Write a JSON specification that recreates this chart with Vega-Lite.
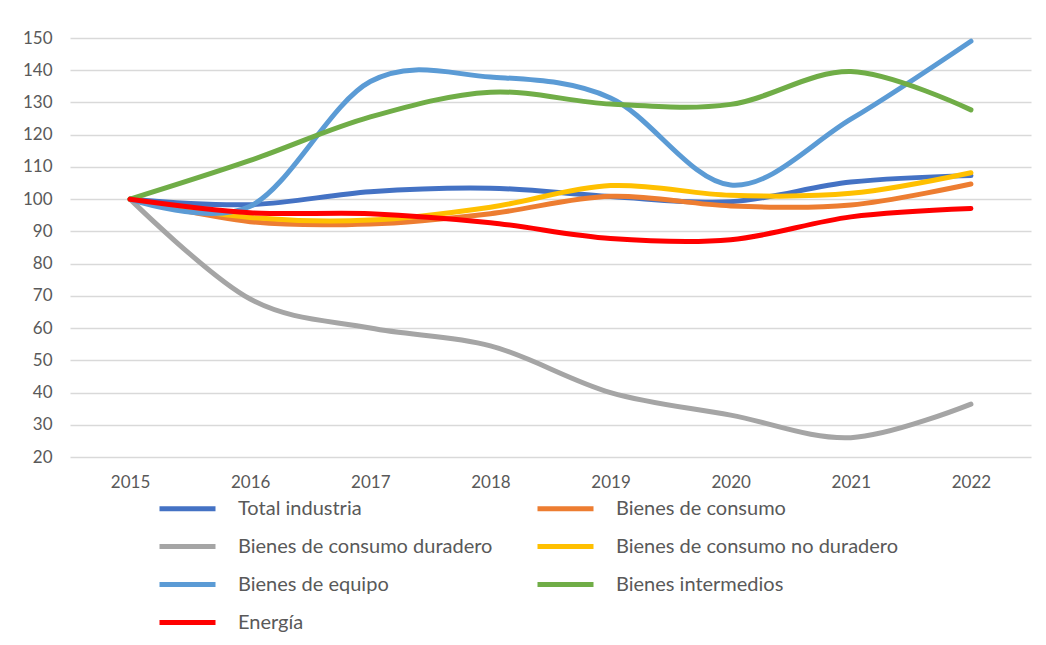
{
  "$schema": "https://vega.github.io/schema/vega-lite/v6.json",
  "autosize": {"type": "none"},
  "width": 961,
  "height": 419,
  "padding": {"left": 70, "top": 38, "right": 15, "bottom": 188},
  "background": "white",
  "config": {
    "font": "Lato",
    "view": {"stroke": null},
    "axis": {"labelFont": "Lato", "labelColor": "#595959", "labelFontSize": 17, "domain": false, "ticks": false, "title": null}
  },
  "data": {"values": [
    {"year": "2015", "serie": "Total industria", "value": 100},
    {"year": "2016", "serie": "Total industria", "value": 98.3},
    {"year": "2017", "serie": "Total industria", "value": 102.3},
    {"year": "2018", "serie": "Total industria", "value": 103.4},
    {"year": "2019", "serie": "Total industria", "value": 100.8},
    {"year": "2020", "serie": "Total industria", "value": 99.2},
    {"year": "2021", "serie": "Total industria", "value": 105.3},
    {"year": "2022", "serie": "Total industria", "value": 107.3},
    {"year": "2015", "serie": "Bienes de consumo", "value": 100},
    {"year": "2016", "serie": "Bienes de consumo", "value": 93},
    {"year": "2017", "serie": "Bienes de consumo", "value": 92.3},
    {"year": "2018", "serie": "Bienes de consumo", "value": 95.5},
    {"year": "2019", "serie": "Bienes de consumo", "value": 100.9},
    {"year": "2020", "serie": "Bienes de consumo", "value": 97.9},
    {"year": "2021", "serie": "Bienes de consumo", "value": 98.2},
    {"year": "2022", "serie": "Bienes de consumo", "value": 104.7},
    {"year": "2015", "serie": "Bienes de consumo duradero", "value": 100},
    {"year": "2016", "serie": "Bienes de consumo duradero", "value": 69},
    {"year": "2017", "serie": "Bienes de consumo duradero", "value": 60},
    {"year": "2018", "serie": "Bienes de consumo duradero", "value": 54.5},
    {"year": "2019", "serie": "Bienes de consumo duradero", "value": 40},
    {"year": "2020", "serie": "Bienes de consumo duradero", "value": 33},
    {"year": "2021", "serie": "Bienes de consumo duradero", "value": 26},
    {"year": "2022", "serie": "Bienes de consumo duradero", "value": 36.4},
    {"year": "2015", "serie": "Bienes de consumo no duradero", "value": 100},
    {"year": "2016", "serie": "Bienes de consumo no duradero", "value": 94.3},
    {"year": "2017", "serie": "Bienes de consumo no duradero", "value": 93.5},
    {"year": "2018", "serie": "Bienes de consumo no duradero", "value": 97.5},
    {"year": "2019", "serie": "Bienes de consumo no duradero", "value": 104.2},
    {"year": "2020", "serie": "Bienes de consumo no duradero", "value": 101.2},
    {"year": "2021", "serie": "Bienes de consumo no duradero", "value": 101.8},
    {"year": "2022", "serie": "Bienes de consumo no duradero", "value": 108.2},
    {"year": "2015", "serie": "Bienes de equipo", "value": 100},
    {"year": "2016", "serie": "Bienes de equipo", "value": 97.8},
    {"year": "2017", "serie": "Bienes de equipo", "value": 136.5},
    {"year": "2018", "serie": "Bienes de equipo", "value": 137.9},
    {"year": "2019", "serie": "Bienes de equipo", "value": 131.4},
    {"year": "2020", "serie": "Bienes de equipo", "value": 104.4},
    {"year": "2021", "serie": "Bienes de equipo", "value": 124.8},
    {"year": "2022", "serie": "Bienes de equipo", "value": 149},
    {"year": "2015", "serie": "Bienes intermedios", "value": 100},
    {"year": "2016", "serie": "Bienes intermedios", "value": 112},
    {"year": "2017", "serie": "Bienes intermedios", "value": 125.5},
    {"year": "2018", "serie": "Bienes intermedios", "value": 133.2},
    {"year": "2019", "serie": "Bienes intermedios", "value": 129.5},
    {"year": "2020", "serie": "Bienes intermedios", "value": 129.4},
    {"year": "2021", "serie": "Bienes intermedios", "value": 139.6},
    {"year": "2022", "serie": "Bienes intermedios", "value": 127.7},
    {"year": "2015", "serie": "Energía", "value": 100},
    {"year": "2016", "serie": "Energía", "value": 95.8},
    {"year": "2017", "serie": "Energía", "value": 95.5},
    {"year": "2018", "serie": "Energía", "value": 92.7},
    {"year": "2019", "serie": "Energía", "value": 87.8},
    {"year": "2020", "serie": "Energía", "value": 87.4},
    {"year": "2021", "serie": "Energía", "value": 94.5},
    {"year": "2022", "serie": "Energía", "value": 97.1}
  ]},
  "mark": {"type": "line", "interpolate": "cardinal", "strokeWidth": 5, "strokeCap": "round", "strokeJoin": "round"},
  "encoding": {
    "x": {"field": "year", "type": "ordinal", "scale": {"type": "point", "padding": 0.5},
      "axis": {"labelAngle": 0, "labelPadding": 17, "grid": false}},
    "y": {"field": "value", "type": "quantitative", "scale": {"domain": [20, 150], "nice": false, "zero": false},
      "axis": {"values": [20, 30, 40, 50, 60, 70, 80, 90, 100, 110, 120, 130, 140, 150], "labelPadding": 18, "grid": true, "gridColor": "#D9D9D9", "gridWidth": 1.3}},
    "color": {"field": "serie", "type": "nominal",
      "scale": {"domain": ["Total industria", "Bienes de consumo", "Bienes de consumo duradero", "Bienes de consumo no duradero", "Bienes de equipo", "Bienes intermedios", "Energía"],
        "range": ["#4472C4", "#ED7D31", "#A5A5A5", "#FFC000", "#5B9BD5", "#70AD47", "#FF0000"]},
      "legend": {"title": null, "orient": "none", "direction": "horizontal", "legendX": 95, "legendY": 448, "columns": 2, "symbolType": "M-1.4,0H1.4", "symbolSize": 1600, "symbolStrokeWidth": 5, "labelFont": "Lato", "labelFontSize": 20, "labelColor": "#595959", "labelOffset": 28, "rowPadding": 5, "columnPadding": 34, "labelLimit": 400}},
    "order": {"field": "serie"}
  }
}
